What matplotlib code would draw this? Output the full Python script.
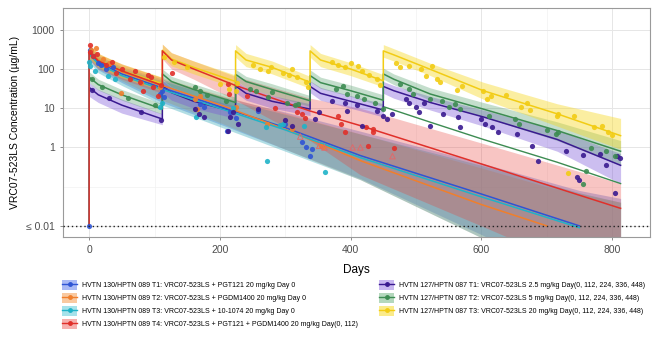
import numpy as np
import matplotlib
matplotlib.use("Agg")
import matplotlib.pyplot as plt
from matplotlib.patches import Patch
from matplotlib.lines import Line2D

plt.rcParams['font.family'] = ['Liberation Sans', 'DejaVu Sans']
nan = np.nan

# ---- model curves (day, median, lower, upper) ----
# HVTN 130 single-dose groups
blue_days = [0, 0, 14, 50, 112, 208, 300, 415, 600, 750, 813]
blue_med = [0.01, 270, 150, 75, 33, 10, 3.2, 0.62, 0.065, 0.01, nan]
blue_lo = [0.01, 180, 95, 45, 14, 3.5, 0.9, 0.16, 0.006, 0.0004, 0.0001]
blue_hi = [0.01, 380, 220, 115, 55, 19, 8, 2.6, 0.4, 0.08, 0.05]

orange_days = [0, 0, 14, 50, 112, 208, 300, 415, 600, 700, 813]
orange_med = [0.01, 300, 170, 85, 38, 11, 2.9, 0.46, 0.035, 0.01, nan]
orange_lo = [0.01, 200, 110, 50, 16, 3.8, 0.9, 0.15, 0.005, 0.0008, 0.0001]
orange_hi = [0.01, 420, 250, 130, 60, 20, 7.5, 2.2, 0.3, 0.1, 0.04]

cyan_days = [0, 0, 14, 50, 112, 208, 300, 415, 600, 750, 813]
cyan_med = [0.01, 240, 135, 68, 30, 9, 2.8, 0.55, 0.055, 0.009, nan]
cyan_lo = [0.01, 150, 80, 38, 12, 3, 0.8, 0.15, 0.005, 0.0004, 0.0001]
cyan_hi = [0.01, 350, 200, 105, 50, 17, 7, 2.2, 0.35, 0.07, 0.04]

red_days = [0, 0, 14, 50, 112, 112, 126, 160, 224, 338, 415, 600, 813]
red_med = [0.01, 280, 160, 90, 38, 290, 170, 100, 38, 8.5, 3.6, 0.38, 0.028]
red_lo = [0.01, 170, 100, 55, 24, 180, 100, 55, 16, 1.5, 0.2, 0.01, 0.0003]
red_hi = [0.01, 420, 240, 135, 60, 430, 260, 160, 65, 18, 10, 1.3, 0.12]

# HVTN 127 repeated-dose groups
rep_days = [0, 0, 14, 50, 112, 112, 126, 160, 224, 224, 240, 280, 338,
            338, 354, 400, 450, 450, 466, 522, 603, 716, 813]
purple_med = [0.01, 34, 22, 12, 5.3, 38, 25, 15, 8, 37, 24, 15, 9.5,
              36, 24, 15, 9, 36, 28, 14, 6, 1.6, 0.35]
purple_lo = [0.01, 20, 14, 7.5, 3.8, 25, 16, 10, 5.5, 25, 16, 10, 6.5,
             25, 16, 10, 6, 24, 18, 9, 3.5, 0.8, 0.12]
purple_hi = [0.01, 45, 30, 17, 7.2, 50, 34, 21, 11.5, 50, 34, 21, 13,
             50, 34, 21, 13, 48, 38, 20, 9, 2.8, 0.7]
green_med = [0.01, 62, 40, 22, 9.5, 75, 48, 30, 14, 73, 48, 30, 15.5,
             68, 45, 28, 16, 75, 55, 23, 9.5, 2.7, 0.8]
green_lo = [0.01, 45, 29, 16, 7, 55, 35, 21, 10, 52, 34, 21, 11,
            48, 32, 20, 11, 55, 40, 16, 6, 1.5, 0.35]
green_hi = [0.01, 85, 55, 30, 13, 100, 65, 42, 19, 98, 65, 42, 21,
            95, 62, 39, 22, 105, 75, 33, 14, 4.5, 1.5]
yellow_med = [0.01, 290, 170, 90, 42, 300, 180, 110, 48, 290, 170, 110, 46,
              290, 170, 100, 50, 290, 230, 98, 28, 7.2, 2.0]
yellow_lo = [0.01, 190, 110, 60, 28, 200, 120, 75, 33, 200, 115, 75, 32,
             200, 115, 68, 35, 200, 160, 68, 17, 3.5, 0.9]
yellow_hi = [0.01, 420, 250, 135, 62, 430, 260, 160, 70, 420, 250, 160, 65,
             420, 250, 145, 72, 420, 330, 140, 46, 13, 5.5]

green2_days = [450, 522, 603, 716, 813]
green2_vals = [11, 4.4, 1.6, 0.42, 0.12]

# ---- observed concentrations ----
blue_pt_d = [0, 1, 6, 14, 18, 26, 36, 109, 112, 114, 164, 170, 175, 216, 211,
             224, 259, 326, 331, 338, 341, 300]
blue_pt_v = [0.01, 310, 210, 145, 130, 98, 115, 23, 27, 19, 9.5, 13, 11, 8, 2.7,
             5.5, 8.5, 1.4, 1.0, 0.6, 0.9, 4]
orange_pt_d = [3, 11, 21, 30, 49, 80, 109, 162, 165, 224, 272, 311, 354, 357, 170]
orange_pt_v = [300, 350, 175, 140, 25, 45, 34, 17, 9.5, 11, 4, 3, 1.1, 1.0, 20]
cyan_pt_d = [0, 2, 9, 29, 40, 109, 112, 164, 270, 272, 292, 296, 328, 361, 220]
cyan_pt_v = [150, 120, 88, 65, 55, 11, 14, 6, 3.3, 0.46, 3.8, 4, 3.6, 0.24, 10]
red_pt_d = [1, 2, 6, 12, 26, 35, 41, 50, 63, 70, 78, 83, 90, 95, 98, 106, 110,
            126, 213, 214, 241, 285, 318, 326, 330, 381, 385, 392, 423, 427,
            434, 435, 466]
red_pt_v = [420, 275, 210, 240, 130, 150, 80, 100, 55, 90, 48, 27, 70, 61, 35,
            20, 40, 80, 41, 23, 20, 10, 8, 7, 5.5, 6.3, 4, 2.5, 3.4, 1.1, 3.0,
            2.5, 0.94]
red_tri_d = [323, 352, 360, 403, 415, 464]
red_tri_v = [1.9, 1.1, 1.0, 1.0, 1.0, 0.6]
purple_pt_d = [5, 30, 80, 110, 162, 168, 175, 213, 216, 220, 227, 259, 300, 311,
               346, 352, 372, 392, 395, 410, 418, 440, 450, 455, 464, 484, 490,
               500, 505, 512, 522, 542, 565, 568, 599, 605, 617, 625, 655, 678,
               686, 729, 747, 750, 755, 782, 790, 805, 808, 812]
purple_pt_v = [30, 18, 8, 5, 9.5, 7, 6, 2.7, 6, 8, 4, 9.5, 5, 3.6,
               5.3, 8, 15, 14, 8.5, 12, 3.6, 8.5, 6.3, 5.3, 7, 17, 14,
               11, 8, 14, 3.6, 7, 6, 3.4, 5.3, 4, 3.4, 2.5, 2.2, 1.1,
               0.44, 0.83, 0.18, 0.15, 0.63, 0.7, 0.35, 0.07, 0.6, 0.55]
green_pt_d = [5, 20, 60, 100, 162, 170, 180, 210, 246, 255, 274, 280, 303, 315,
              320, 377, 388, 395, 410, 420, 438, 449, 476, 490, 495, 522, 540,
              550, 560, 568, 611, 652, 657, 700, 714, 718, 755, 760, 767, 790, 805]
green_pt_v = [55, 35, 18, 12, 34, 27, 22, 15, 31, 28, 19, 26, 14, 12,
              13, 31, 37, 23, 20, 17, 14, 9.5, 41, 31, 23, 17, 15,
              11, 13, 9.5, 6.3, 5.3, 4, 2.8, 2.2, 2.5, 0.12, 0.25, 0.94, 0.8, 0.6]
yellow_pt_d = [115, 130, 150, 200, 214, 224, 226, 250, 262, 274, 278, 296, 305,
               311, 318, 331, 335, 372, 380, 392, 400, 412, 418, 428, 440, 445,
               469, 476, 490, 507, 515, 525, 532, 536, 563, 571, 603, 609, 615,
               637, 660, 670, 675, 716, 718, 732, 741, 772, 785, 793, 800]
yellow_pt_v = [200, 150, 110, 41, 31, 27, 45, 130, 100, 87, 110, 81, 70,
               98, 61, 46, 35, 150, 130, 110, 140, 120, 87, 70, 55, 40,
               146, 110, 120, 98, 65, 120, 55, 46, 30, 37, 27, 17, 20,
               22, 11, 14, 9, 6.3, 7, 0.22, 6.3, 3.4, 3.6, 2.5, 2.1]

labels = [
    "HVTN 130/HPTN 089 T1: VRC07-523LS + PGT121 20 mg/kg Day 0",
    "HVTN 130/HPTN 089 T2: VRC07-523LS + PGDM1400 20 mg/kg Day 0",
    "HVTN 130/HPTN 089 T3: VRC07-523LS + 10-1074 20 mg/kg Day 0",
    "HVTN 130/HPTN 089 T4: VRC07-523LS + PGT121 + PGDM1400 20 mg/kg Day(0, 112)",
    "HVTN 127/HPTN 087 T1: VRC07-523LS 2.5 mg/kg Day(0, 112, 224, 336, 448)",
    "HVTN 127/HPTN 087 T2: VRC07-523LS 5 mg/kg Day(0, 112, 224, 336, 448)",
    "HVTN 127/HPTN 087 T3: VRC07-523LS 20 mg/kg Day(0, 112, 224, 336, 448)",
]

groups = [
    # line colour, band colour, band alpha, curve, points
    ("#2f55d4", "#3e62d8", 0.34, blue_days, blue_med, blue_lo, blue_hi, blue_pt_d, blue_pt_v),
    ("#f07f2c", "#e88a44", 0.30, orange_days, orange_med, orange_lo, orange_hi, orange_pt_d, orange_pt_v),
    ("#1fb3c8", "#1f9fb2", 0.34, cyan_days, cyan_med, cyan_lo, cyan_hi, cyan_pt_d, cyan_pt_v),
    ("#e0302a", "#e8403a", 0.30, red_days, red_med, red_lo, red_hi, red_pt_d, red_pt_v),
    ("#3a1a90", "#7a55d8", 0.38, rep_days, purple_med, purple_lo, purple_hi, purple_pt_d, purple_pt_v),
    ("#3d8c52", "#4a9a62", 0.32, rep_days, green_med, green_lo, green_hi, green_pt_d, green_pt_v),
    ("#f2cc14", "#f7d820", 0.42, rep_days, yellow_med, yellow_lo, yellow_hi, yellow_pt_d, yellow_pt_v),
]
light = ["#a9b9f5", "#f9c9a0", "#a6e2ea", "#f6b0ae", "#c8b7f0", "#b4d8bd", "#fbeb8a"]

fig = plt.figure(figsize=(6.52, 3.41), dpi=100)
ax = fig.add_axes([63 / 652, 1 - 237 / 341, 587 / 652, 229 / 341])

for c, fc, a, d, m, lo, hi, pd_, pv in groups:
    ax.fill_between(d, lo, hi, color=fc, alpha=a, lw=0, zorder=2)
# 127 lines first, then 130 lines, so the T4 line sits on top at day 0
ax.plot(green2_days, green2_vals, color="#3d8c52", lw=1.0, zorder=3)
for c, fc, a, d, m, lo, hi, pd_, pv in groups[4:] + groups[:4]:
    ax.plot(d, m, color=c, lw=1.1, zorder=3)
for c, fc, a, d, m, lo, hi, pd_, pv in groups:
    ax.scatter(pd_, pv, s=14, color=c, lw=0, alpha=0.9, zorder=4)
ax.scatter(red_tri_d, red_tri_v, s=16, marker="^", facecolor="none",
           edgecolor="#e06a6a", lw=0.7, zorder=4)

ax.axhline(0.01, color="#222222", ls=(0, (1, 2)), lw=1.0, zorder=5)

ax.set_yscale("log")
ax.set_ylim(0.0052, 3600)
ax.set_xlim(-40, 858)
ax.set_yticks([0.01, 1, 10, 100, 1000])
ax.set_yticklabels(["\u2264 0.01", "1", "10", "100", "1000"])
ax.yaxis.set_minor_locator(matplotlib.ticker.NullLocator())
ax.set_xticks([0, 200, 400, 600, 800])

ax.grid(True, color="#e6e6e6", lw=0.7, zorder=0)
for xv in [100, 300, 500, 700]:
    ax.axvline(xv, color="#f2f2f2", lw=0.5, zorder=0)
ax.axhline(0.1, color="#f2f2f2", lw=0.5, zorder=0)
ax.set_axisbelow(True)
for s in ax.spines.values():
    s.set_color("#9a9a9a")
    s.set_linewidth(0.8)
ax.tick_params(labelsize=7.5, colors="#4d4d4d", length=2.5, width=0.6)
ax.tick_params(axis="both", color="#7a7a7a")

ax.set_xlabel("Days", fontsize=8.5, labelpad=6)
ax.set_ylabel("VRC07-523LS Concentration (\u00b5g/mL)", fontsize=7.5, labelpad=4)

handles = []
for (c, *_), lc in zip(groups, light):
    handles.append((Patch(facecolor=lc, edgecolor="none"),
                    Line2D([], [], color=c, lw=1.0, marker="o", markersize=2.5)))

kw = dict(fontsize=5, frameon=False, handlelength=2.2, handleheight=1.9,
          labelspacing=0.39, handletextpad=0.7, borderpad=0, borderaxespad=0,
          loc="upper left")
fig.legend(handles[:4], labels[:4], bbox_to_anchor=(62 / 652, 1 - 280 / 341), **kw)
fig.legend(handles[4:], labels[4:], bbox_to_anchor=(379 / 652, 1 - 280 / 341), **kw)

fig.savefig("out.png", dpi=100)
